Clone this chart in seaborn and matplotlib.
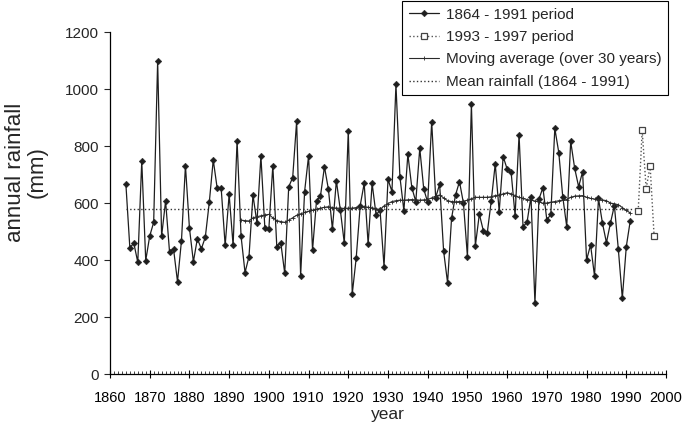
import numpy as np
import pandas as pd
import matplotlib
matplotlib.use("Agg")
import matplotlib.pyplot as plt
import seaborn as sns
from matplotlib.ticker import MultipleLocator

# ---------------- data ----------------
years_main = list(range(1864, 1992))
rain_main = [
    667, 443, 459, 392, 747, 398, 484, 532, 1098, 484,   # 1864-1873
    607, 427, 439, 324, 468, 731, 513, 394, 475, 439,    # 1874-1883
    480, 602, 751, 651, 651, 451, 630, 451, 819, 484,    # 1884-1893
    356, 412, 628, 531, 765, 511, 509, 731, 447, 461,    # 1894-1903
    353, 657, 689, 888, 344, 640, 765, 435, 608, 625,    # 1904-1913
    727, 648, 509, 678, 575, 459, 854, 281, 408, 591,    # 1914-1923
    669, 456, 669, 558, 575, 377, 683, 640, 1016, 692,   # 1924-1933
    573, 771, 654, 605, 792, 649, 602, 885, 619, 666,    # 1934-1943
    432, 320, 546, 628, 675, 599, 412, 946, 450, 561,    # 1944-1953
    503, 496, 607, 737, 570, 763, 719, 708, 556, 839,    # 1954-1963
    517, 532, 622, 248, 613, 654, 540, 561, 862, 777,    # 1964-1973
    622, 517, 816, 722, 657, 710, 400, 453, 344, 616,    # 1974-1983
    529, 461, 529, 591, 437, 266, 447, 538,              # 1984-1991
]

years_recent = [1993, 1994, 1995, 1996, 1997]
rain_recent = [572, 855, 650, 730, 485]

years_ma = list(range(1893, 1992))
rain_ma = [
    540, 538, 537, 548, 552, 555, 558, 560, 548, 538,    # 1893-1902
    535, 532, 540, 548, 557, 562, 567, 571, 575, 578,    # 1903-1912
    582, 585, 587, 584, 582, 582, 581, 582, 582, 584,    # 1913-1922
    586, 587, 585, 583, 580, 576, 590, 598, 605, 608,    # 1923-1932
    610, 610, 611, 612, 611, 610, 611, 612, 618, 624,    # 1933-1942
    628, 618, 608, 605, 604, 605, 606, 610, 615, 620,    # 1943-1952
    620, 620, 620, 622, 626, 628, 632, 636, 632, 626,    # 1953-1962
    620, 616, 612, 610, 607, 605, 599, 600, 603, 605,    # 1963-1972
    608, 610, 612, 620, 624, 625, 626, 620, 616, 614,    # 1973-1982
    612, 611, 608, 600, 597, 594, 584, 574, 565,         # 1983-1991
]

mean_years = [1864, 1992]
mean_value = 580

x_ticks = list(range(1860, 2001, 10))
y_ticks = [0, 200, 400, 600, 800, 1000, 1200]

df_main = pd.DataFrame({"year": years_main, "rain": rain_main})
df_recent = pd.DataFrame({"year": years_recent, "rain": rain_recent})
df_ma = pd.DataFrame({"year": years_ma, "rain": rain_ma})
df_mean = pd.DataFrame({"year": mean_years, "rain": [mean_value] * len(mean_years)})

# ---------------- style ----------------
sns.set_style("ticks")
plt.rcParams["font.family"] = ["Liberation Sans", "DejaVu Sans"]

fig = plt.figure(figsize=(6.84, 4.25), dpi=100)
ax = fig.add_axes([0.1608, 0.12, 0.8129, 0.8047])

sns.lineplot(data=df_main, x="year", y="rain", ax=ax, color="#1e1e1e",
             linewidth=0.9, marker="D", markersize=3.4,
             markeredgecolor="#1e1e1e", markeredgewidth=0.3,
             label="1864 - 1991 period", zorder=3)
sns.lineplot(data=df_recent, x="year", y="rain", ax=ax, color="#555555",
             linewidth=1.0, linestyle=":", marker="s", markersize=4.5,
             markerfacecolor="white", markeredgecolor="#444444",
             markeredgewidth=0.9, label="1993 - 1997 period", zorder=3)
sns.lineplot(data=df_ma, x="year", y="rain", ax=ax, color="#2a2a2a",
             linewidth=0.8, marker="+", markersize=3,
             markeredgecolor="#2a2a2a", markeredgewidth=0.6,
             label="Moving average (over 30 years)", zorder=4)
sns.lineplot(data=df_mean, x="year", y="rain", ax=ax, color="#333333",
             linewidth=1.0, linestyle=":", label="Mean rainfall (1864 - 1991)",
             zorder=2)

ax.set_xlim(1860, 2000)
ax.set_ylim(0, 1200)
ax.set_xticks(x_ticks)
ax.set_yticks(y_ticks)
ax.xaxis.set_minor_locator(MultipleLocator(1))
ax.tick_params(axis="x", which="major", direction="inout", length=6,
               width=0.8, labelsize=10.5, pad=9, colors="black")
ax.tick_params(axis="x", which="minor", direction="in", length=2, width=0.6)
ax.tick_params(axis="y", which="major", direction="out", length=4,
               width=0.8, labelsize=11, pad=4)
for s in ["top", "right"]:
    ax.spines[s].set_visible(False)
for s in ["left", "bottom"]:
    ax.spines[s].set_linewidth(0.9)
    ax.spines[s].set_color("black")

ax.set_xlabel("year", fontsize=12.5, labelpad=2)
ax.set_ylabel("annual rainfall\n(mm)", fontsize=16, linespacing=1.05,
              va="center", ha="center")
ax.yaxis.set_label_coords(-0.150, 0.59)

ax.get_legend().remove()
handles, labels = ax.get_legend_handles_labels()
leg = fig.legend(handles, labels, loc="upper right",
                 bbox_to_anchor=(0.976, 0.997), frameon=True, fancybox=False,
                 edgecolor="black", framealpha=1, fontsize=11,
                 handlelength=2.0, labelspacing=0.55, borderpad=0.42,
                 handletextpad=0.4, borderaxespad=0)
leg.get_frame().set_linewidth(0.8)

fig.savefig("out.png", dpi=100)
